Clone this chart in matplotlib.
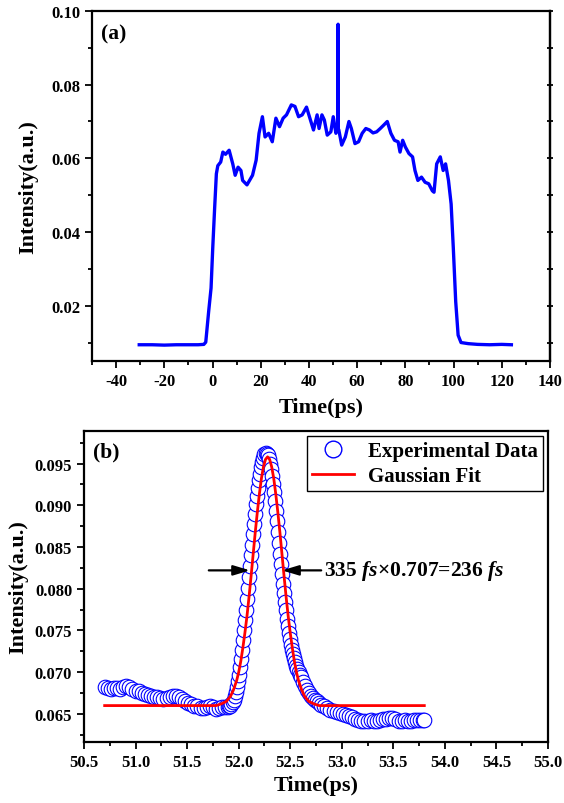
import matplotlib
matplotlib.use("Agg")
import matplotlib.pyplot as plt
from matplotlib.lines import Line2D
from matplotlib.ticker import MultipleLocator, NullLocator

plt.rcParams["font.family"] = ["Liberation Serif", "DejaVu Serif"]
plt.rcParams["font.weight"] = "bold"
plt.rcParams["axes.unicode_minus"] = False
plt.rcParams["mathtext.fontset"] = "custom"
plt.rcParams["mathtext.rm"] = "Liberation Serif:bold"
plt.rcParams["mathtext.bf"] = "Liberation Serif:bold"
plt.rcParams["mathtext.bfit"] = "Liberation Serif:italic:bold"
plt.rcParams["mathtext.it"] = "Liberation Serif:italic:bold"

# (a) full autocorrelation trace
trace_t = [-30.4, -25.0, -20.0, -15.0, -10.0, -6.0, -3.6, -2.8, -1.6, -0.6, 0.1, 0.9, 1.6,
           2.2, 3.4, 4.3, 5.4, 6.9, 8.4, 9.4, 10.6, 11.8, 12.5, 14.3, 16.6, 18.1, 19.3,
           20.7, 21.8, 23.3, 24.8, 26.3, 27.8, 29.3, 30.7, 32.7, 34.2, 35.7, 37.2, 39.0,
           40.4, 41.9, 43.4, 44.2, 45.4, 46.4, 47.6, 49.1, 50.1, 51.2, 51.8, 52.0, 52.1,
           52.2, 52.4, 53.6, 55.1, 56.6, 57.6, 59.1, 60.6, 62.1, 63.6, 65.1, 66.6, 68.1,
           69.6, 71.0, 72.5, 74.0, 75.5, 77.0, 77.8, 78.9, 80.0, 81.5, 83.0, 84.0, 85.2,
           86.7, 88.2, 89.7, 91.2, 91.9, 93.0, 94.5, 95.7, 96.7, 97.9, 99.0, 99.9, 100.9,
           101.9, 103.1, 106.1, 110.0, 115.0, 120.0, 124.0]
trace_v = [0.0094, 0.0094, 0.0093, 0.0094, 0.0094, 0.0094, 0.0095, 0.0101, 0.0184, 0.0248,
           0.0357, 0.0467, 0.0558, 0.0580, 0.0590, 0.0617, 0.0611, 0.0622, 0.0585, 0.0554,
           0.0576, 0.0567, 0.0540, 0.0528, 0.0554, 0.0595, 0.0668, 0.0713, 0.0658, 0.0668,
           0.0645, 0.0709, 0.0686, 0.0709, 0.0718, 0.0745, 0.0741, 0.0713, 0.0718, 0.0739,
           0.0709, 0.0677, 0.0718, 0.0681, 0.0718, 0.0704, 0.0663, 0.0672, 0.0713, 0.0668,
           0.0686, 0.0690, 0.0964, 0.0680, 0.0677, 0.0636, 0.0658, 0.0700, 0.0681, 0.0640,
           0.0645, 0.0668, 0.0681, 0.0677, 0.0669, 0.0672, 0.0681, 0.0690, 0.0700, 0.0668,
           0.0649, 0.0645, 0.0617, 0.0649, 0.0631, 0.0613, 0.0604, 0.0567, 0.0540, 0.0549,
           0.0535, 0.0531, 0.0512, 0.0508, 0.0585, 0.0604, 0.0567, 0.0585, 0.0540, 0.0476,
           0.0357, 0.0211, 0.0120, 0.0100, 0.0097, 0.0095, 0.0094, 0.0095, 0.0094]

# (b) zoom on the central spike: experimental points
exp_t = [50.70, 50.73, 50.76, 50.79, 50.82, 50.85, 50.88, 50.91, 50.94, 50.97, 51.00, 51.03,
         51.06, 51.09, 51.12, 51.15, 51.18, 51.21, 51.24, 51.27, 51.30, 51.33, 51.36, 51.39,
         51.42, 51.45, 51.48, 51.51, 51.54, 51.57, 51.60, 51.63, 51.66, 51.69, 51.72, 51.75,
         51.78, 51.81, 51.84, 51.87,
         51.90, 51.91, 51.92, 51.93, 51.94, 51.95, 51.96, 51.97, 51.98, 51.99, 52.00, 52.01,
         52.02, 52.03, 52.04, 52.05, 52.06, 52.07, 52.08, 52.09, 52.10, 52.11, 52.12, 52.13,
         52.14, 52.15, 52.16, 52.17, 52.18, 52.19, 52.20, 52.21, 52.22, 52.23, 52.24, 52.25,
         52.26, 52.27, 52.28, 52.29, 52.30, 52.31, 52.32, 52.33, 52.34, 52.35, 52.36, 52.37,
         52.38, 52.39, 52.40, 52.41, 52.42, 52.43, 52.44, 52.45, 52.46, 52.47, 52.48, 52.49,
         52.50, 52.51, 52.52, 52.53, 52.54, 52.55, 52.56, 52.57, 52.58, 52.59, 52.60, 52.62,
         52.64, 52.66, 52.68, 52.70, 52.72, 52.74, 52.76, 52.78, 52.80,
         52.83, 52.86, 52.89, 52.92, 52.95, 52.98, 53.01, 53.04, 53.07, 53.10, 53.13, 53.16,
         53.19, 53.22, 53.25, 53.28, 53.31, 53.34, 53.37, 53.40, 53.43, 53.46, 53.49, 53.52,
         53.55, 53.58, 53.61, 53.64, 53.67, 53.70, 53.73, 53.76, 53.79, 53.80]
exp_v = [0.0682, 0.0681, 0.0680, 0.0681, 0.0681, 0.0680, 0.0682, 0.0683, 0.0682, 0.0680,
         0.0678, 0.0677, 0.0675, 0.0674, 0.0673, 0.0671, 0.0670, 0.0670, 0.0669, 0.0668,
         0.0669, 0.0670, 0.0671, 0.0671, 0.0670, 0.0668, 0.0665, 0.0663, 0.0662, 0.0660,
         0.0659, 0.0657, 0.0657, 0.0658, 0.0659, 0.0658, 0.0656, 0.0657, 0.0658, 0.0658,
         0.0658, 0.0659, 0.0660, 0.0662, 0.0664, 0.0667, 0.0671, 0.0676, 0.0682, 0.0689,
         0.0697, 0.0706, 0.0716, 0.0727, 0.0738, 0.0750, 0.0762, 0.0775, 0.0788, 0.0801,
         0.0814, 0.0827, 0.0840, 0.0853, 0.0866, 0.0878, 0.0890, 0.0901, 0.0911, 0.0921,
         0.0930, 0.0938, 0.0946, 0.0952, 0.0957, 0.0961, 0.0963, 0.0962, 0.0960, 0.0956,
         0.0950, 0.0943, 0.0935, 0.0926, 0.0916, 0.0905, 0.0893, 0.0881, 0.0868, 0.0855,
         0.0842, 0.0830, 0.0818, 0.0806, 0.0795, 0.0784, 0.0774, 0.0764, 0.0755, 0.0747,
         0.0740, 0.0733, 0.0727, 0.0722, 0.0717, 0.0712, 0.0708, 0.0704, 0.0700, 0.0697,
         0.0694, 0.0688, 0.0683, 0.0679, 0.0675, 0.0672, 0.0669, 0.0667, 0.0665, 0.0663,
         0.0661,
         0.0659, 0.0657, 0.0655, 0.0653, 0.0652, 0.0651, 0.0650, 0.0649, 0.0647, 0.0646,
         0.0644, 0.0643, 0.0642, 0.0642, 0.0642, 0.0643, 0.0642, 0.0642, 0.0643, 0.0644,
         0.0644, 0.0645, 0.0645, 0.0644, 0.0642, 0.0642, 0.0643, 0.0642, 0.0642, 0.0643,
         0.0643, 0.0643, 0.0643, 0.0643]

# Gaussian fit curve
fit_t = [50.70, 51.50, 51.78, 51.83, 51.88, 51.92, 51.95, 51.98, 52.00, 52.02, 52.04, 52.06,
         52.08, 52.10, 52.12, 52.14, 52.16, 52.18, 52.20, 52.22, 52.24, 52.26, 52.28, 52.30,
         52.32, 52.34, 52.36, 52.38, 52.40, 52.42, 52.44, 52.46, 52.48, 52.50, 52.52, 52.54,
         52.56, 52.58, 52.61, 52.64, 52.68, 52.73, 52.78, 53.80]
fit_v = [0.0660, 0.0660, 0.0660, 0.0662, 0.0665, 0.0671, 0.0679, 0.0690, 0.0700, 0.0713,
         0.0729, 0.0747, 0.0767, 0.0790, 0.0815, 0.0841, 0.0867, 0.0891, 0.0913, 0.0932,
         0.0946, 0.0955, 0.0958, 0.0955, 0.0946, 0.0932, 0.0913, 0.0891, 0.0867, 0.0841,
         0.0815, 0.0790, 0.0767, 0.0747, 0.0729, 0.0713, 0.0700, 0.0690, 0.0679, 0.0671,
         0.0665, 0.0662, 0.0660, 0.0660]

BLUE = "#0000ff"


def style_axes(ax):
    for side in ax.spines.values():
        side.set_linewidth(1.6)
    ax.tick_params(which="both", direction="out", top=False, right=False,
                   labelsize=12, width=1.3)
    ax.tick_params(which="major", length=5)
    ax.tick_params(which="minor", length=3)
    for lab in ax.get_xticklabels() + ax.get_yticklabels():
        lab.set_fontweight("bold")


fig = plt.figure(figsize=(5.64, 8.04), dpi=100)

# panel (a)
ax1 = fig.add_axes([0.1631, 0.5498, 0.812, 0.4353])
ax1.plot(trace_t, trace_v, color=BLUE, lw=2.4)
ax1.set_xlim(-50, 140)
ax1.set_ylim(0.005, 0.100)
ax1.xaxis.set_major_locator(MultipleLocator(20))
ax1.xaxis.set_minor_locator(MultipleLocator(10))
ax1.yaxis.set_major_locator(MultipleLocator(0.02))
ax1.yaxis.set_minor_locator(MultipleLocator(0.01))
ax1.set_xticks([-40, -20, 0, 20, 40, 60, 80, 100, 120, 140])
ax1.set_yticks([0.02, 0.04, 0.06, 0.08, 0.10])
ax1.set_yticklabels(["0.02", "0.04", "0.06", "0.08", "0.10"])
style_axes(ax1)
ax1.set_xlabel("Time(ps)", fontsize=16, fontweight="bold", labelpad=6)
ax1.set_ylabel("Intensity(a.u.)", fontsize=16, fontweight="bold", labelpad=9)
ax1.text(0.02, 0.965, "(a)", transform=ax1.transAxes, fontsize=15.5,
         fontweight="bold", va="top", ha="left")
right1 = ax1.secondary_yaxis("right")
right1.yaxis.set_major_locator(NullLocator())
right1.yaxis.set_minor_locator(MultipleLocator(0.01))
right1.tick_params(which="minor", direction="inout", length=4, width=1.3)
right1.spines["right"].set_linewidth(1.6)

# panel (b)
ax2 = fig.add_axes([0.149, 0.0759, 0.8227, 0.3868])
ax2.plot(exp_t, exp_v, linestyle="none", marker="o", markersize=10.5,
         markerfacecolor="white", markeredgecolor=BLUE, markeredgewidth=0.8)
ax2.plot(fit_t, fit_v, color="red", lw=2.0)
ax2.set_xlim(50.5, 55.0)
ax2.set_ylim(0.06164, 0.0989)
ax2.xaxis.set_major_locator(MultipleLocator(0.5))
ax2.xaxis.set_minor_locator(MultipleLocator(0.25))
ax2.yaxis.set_major_locator(MultipleLocator(0.005))
ax2.yaxis.set_minor_locator(MultipleLocator(0.0025))
ax2.set_xticks([50.5, 51.0, 51.5, 52.0, 52.5, 53.0, 53.5, 54.0, 54.5, 55.0])
ax2.set_xticklabels(["50.5", "51.0", "51.5", "52.0", "52.5", "53.0", "53.5",
                     "54.0", "54.5", "55.0"])
ax2.set_yticks([0.065, 0.070, 0.075, 0.080, 0.085, 0.090, 0.095])
ax2.set_yticklabels(["0.065", "0.070", "0.075", "0.080", "0.085", "0.090", "0.095"])
style_axes(ax2)
ax2.set_xlabel("Time(ps)", fontsize=16, fontweight="bold", labelpad=4)
ax2.set_ylabel("Intensity(a.u.)", fontsize=16, fontweight="bold", labelpad=5)
ax2.text(0.02, 0.965, "(b)", transform=ax2.transAxes, fontsize=15.5,
         fontweight="bold", va="top", ha="left")

arrow = dict(arrowstyle="-|>,head_length=1.0,head_width=0.3", color="black", lw=1.6,
             shrinkA=0, shrinkB=0)
ax2.annotate("", xy=(52.11, 0.0822), xytext=(51.71, 0.0822), arrowprops=arrow)
ax2.annotate("", xy=(52.42, 0.0822), xytext=(52.80, 0.0822), arrowprops=arrow)
ax2.text(52.83, 0.0822, r"335 $\mathbfit{fs}$×0.707=236 $\mathbfit{fs}$", fontsize=15.5,
         fontweight="bold", va="center", ha="left")

handles = [
    Line2D([], [], linestyle="none", marker="o", markersize=12, markerfacecolor="white",
           markeredgecolor=BLUE, markeredgewidth=1.0),
    Line2D([], [], color="red", lw=2.0),
]
leg = ax2.legend(handles, ["Experimental Data", "Gaussian Fit"], loc="upper right",
                 bbox_to_anchor=(0.99, 0.985), borderaxespad=0, fancybox=False,
                 framealpha=1, edgecolor="black", prop={"weight": "bold", "size": 15},
                 handlelength=2.0, handletextpad=0.7, borderpad=0.25, labelspacing=0.25)
leg.get_frame().set_linewidth(1.0)

fig.savefig("out.png", dpi=100)
